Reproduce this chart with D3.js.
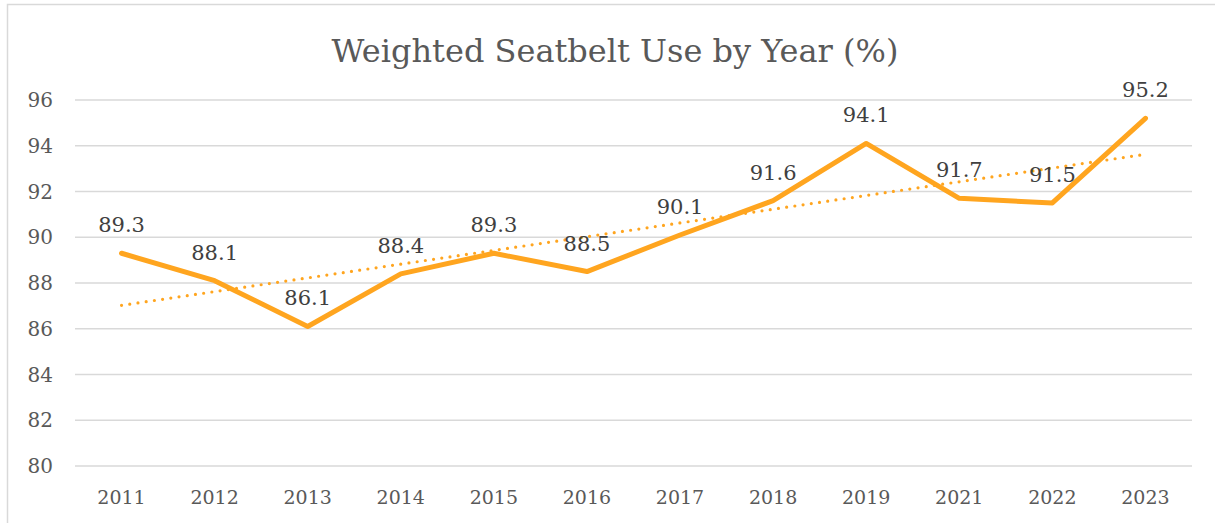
<!DOCTYPE html>
<html>
<head>
<meta charset="utf-8">
<script src="https://cdn.jsdelivr.net/npm/d3@7"></script>
<style>
  body { margin: 0; background: #fff; }
  svg text { font-family: Georgia, "DejaVu Serif", serif; }
</style>
</head>
<body>
<div id="chart"></div>
<script>
// data
const years = ['2011', '2012', '2013', '2014', '2015', '2016', '2017', '2018', '2019', '2021', '2022', '2023'];
const seatbeltUse = [89.3, 88.1, 86.1, 88.4, 89.3, 88.5, 90.1, 91.6, 94.1, 91.7, 91.5, 95.2];
const yTicks = [80, 82, 84, 86, 88, 90, 92, 94, 96];

const width = 1215, height = 523;
const plotLeft = 75, plotRight = 1192, plotTop = 100, plotBottom = 466;
const lineColor = '#FFA51F';

const svg = d3.select('#chart').append('svg')
    .attr('width', width)
    .attr('height', height);

// chart frame
svg.append('rect')
    .attr('x', 7.5).attr('y', 4.5)
    .attr('width', width).attr('height', height)
    .attr('fill', '#fff')
    .attr('stroke', '#d9d9d9')
    .attr('stroke-width', 1.5);

const x = d3.scaleBand().domain(years).range([plotLeft, plotRight]);
const y = d3.scaleLinear().domain([80, 96]).range([plotBottom, plotTop]);
const cx = d => x(d) + x.bandwidth() / 2;

// gridlines
svg.append('g')
    .selectAll('line')
    .data(yTicks)
    .enter().append('line')
    .attr('x1', plotLeft).attr('x2', plotRight)
    .attr('y1', d => y(d)).attr('y2', d => y(d))
    .attr('stroke', '#d9d9d9')
    .attr('stroke-width', 1.5);

// y axis labels
svg.append('g')
    .selectAll('text')
    .data(yTicks)
    .enter().append('text')
    .attr('x', 53)
    .attr('y', d => y(d))
    .attr('dy', '0.35em')
    .attr('text-anchor', 'end')
    .attr('fill', '#595959')
    .style('font-size', '20px')
    .text(d => d);

// x axis labels
svg.append('g')
    .selectAll('text')
    .data(years)
    .enter().append('text')
    .attr('x', d => cx(d))
    .attr('y', 504)
    .attr('text-anchor', 'middle')
    .attr('fill', '#595959')
    .style('font-size', '19px')
    .text(d => d);

// title
svg.append('text')
    .attr('x', 615)
    .attr('y', 62)
    .attr('text-anchor', 'middle')
    .attr('fill', '#595959')
    .style('font-size', '32px')
    .text('Weighted Seatbelt Use by Year (%)');

// linear trendline (least squares over category index)
const n = seatbeltUse.length;
const mx = d3.mean(seatbeltUse, (d, i) => i);
const my = d3.mean(seatbeltUse);
const slope = d3.sum(seatbeltUse, (d, i) => (i - mx) * (d - my)) / d3.sum(seatbeltUse, (d, i) => (i - mx) * (i - mx));
const trend = [0, n - 1].map(i => ({ year: years[i], value: my + slope * (i - mx) }));

svg.append('path')
    .datum(trend)
    .attr('d', d3.line().x(d => cx(d.year)).y(d => y(d.value)))
    .attr('fill', 'none')
    .attr('stroke', lineColor)
    .attr('stroke-width', 3.2)
    .attr('stroke-linecap', 'round')
    .attr('stroke-dasharray', '0 8.3');

// main line
const points = years.map((yr, i) => ({ year: yr, value: seatbeltUse[i] }));
svg.append('path')
    .datum(points)
    .attr('d', d3.line().x(d => cx(d.year)).y(d => y(d.value)))
    .attr('fill', 'none')
    .attr('stroke', lineColor)
    .attr('stroke-width', 5)
    .attr('stroke-linejoin', 'round')
    .attr('stroke-linecap', 'round');

// data labels
svg.append('g')
    .selectAll('text')
    .data(points)
    .enter().append('text')
    .attr('x', d => cx(d.year))
    .attr('y', d => y(d.value) - 21)
    .attr('text-anchor', 'middle')
    .attr('fill', '#404040')
    .style('font-size', '21px')
    .text(d => d.value.toFixed(1));
</script>
</body>
</html>
